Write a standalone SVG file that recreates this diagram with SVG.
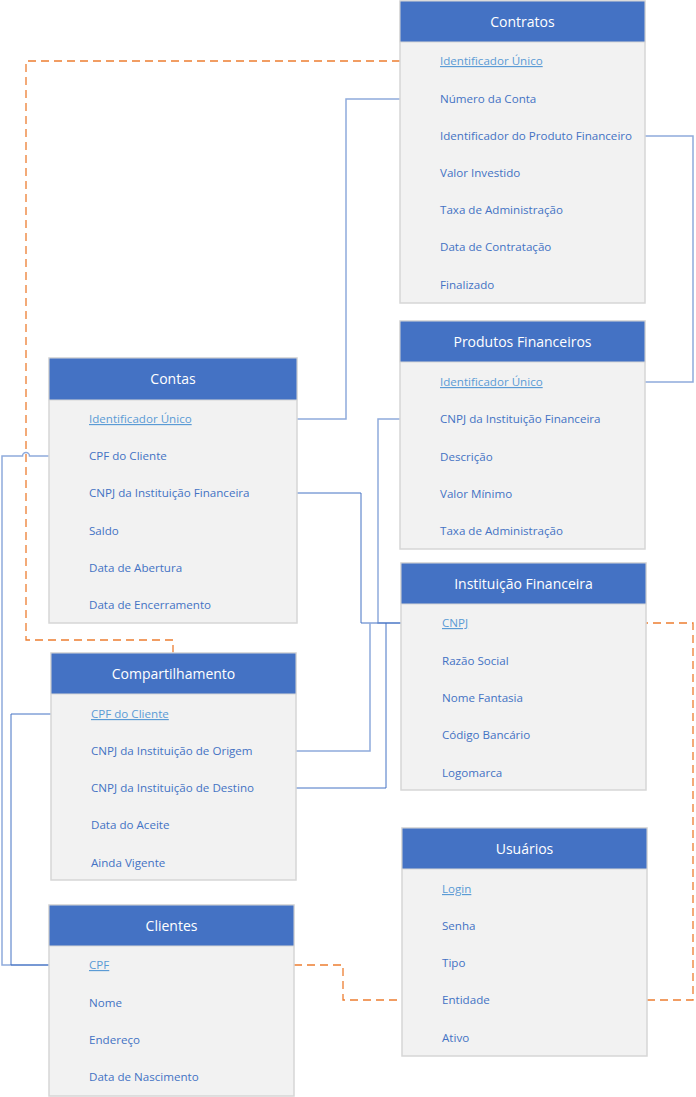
<svg xmlns="http://www.w3.org/2000/svg" width="696" height="1097" viewBox="0 0 696 1097">
<defs>
<style>
.body{fill:#f2f2f2;stroke:#d6d6d6;stroke-width:1.5}
.head{fill:#4472c4;stroke:#d6d6d6;stroke-width:1}
.title{font-family:"Open Sans","Noto Sans",sans-serif;font-size:14px;fill:#ffffff;text-anchor:middle}
.row{font-family:"Open Sans","Noto Sans",sans-serif;font-size:11.6px;fill:#4472c4}
.pk{font-family:"Open Sans","Noto Sans",sans-serif;font-size:11.6px;fill:#5b9bd5;text-decoration:underline}
.fk{fill:none;stroke:#8faadc;stroke-width:1.5}
.fkd{fill:none;stroke:#4472c4;stroke-width:1}
.dash{fill:none;stroke:#ed7d31;stroke-width:1.3;stroke-dasharray:8,5}
</style>
</defs>
<g id="connectors">
<path class="dash" d="M400,61 H26 V640 H173 V653"/>
<path class="fk" d="M400,99 H346 V419 H297"/>
<path class="fk" d="M645,136 H693 V382 H645"/>
<path class="fk" d="M400,419 H378 V623 H401"/>
<path class="fkd" d="M297,493 H361 V623 H401"/>
<path class="fk" d="M296,751 H370 V623"/>
<path class="fkd" d="M296,788 H386 V623"/>
<path class="fk" d="M49,456 H29.5 A3.5,3.5 0 0 0 22.5,456 H2 V965 H49"/>
<path class="fkd" d="M51,714 H11 V965 H49"/>
<path class="dash" d="M294,965 H343 V1000 H402"/>
<path class="dash" d="M647,1000 H693 V623 H646"/>
</g>
<g id="contratos">
<rect class="body" x="400" y="1" width="245" height="302"/>
<rect class="head" x="400" y="1" width="245" height="41"/>
<text class="title" x="522.5" y="27">Contratos</text>
<text class="pk" x="440" y="65">Identificador Único</text>
<text class="row" x="440" y="103">Número da Conta</text>
<text class="row" x="440" y="140">Identificador do Produto Financeiro</text>
<text class="row" x="440" y="177">Valor Investido</text>
<text class="row" x="440" y="214">Taxa de Administração</text>
<text class="row" x="440" y="251">Data de Contratação</text>
<text class="row" x="440" y="289">Finalizado</text>
</g>
<g id="produtos">
<rect class="body" x="400" y="321" width="245" height="228"/>
<rect class="head" x="400" y="321" width="245" height="41"/>
<text class="title" x="522.5" y="347">Produtos Financeiros</text>
<text class="pk" x="440" y="386">Identificador Único</text>
<text class="row" x="440" y="423">CNPJ da Instituição Financeira</text>
<text class="row" x="440" y="461">Descrição</text>
<text class="row" x="440" y="498">Valor Mínimo</text>
<text class="row" x="440" y="535">Taxa de Administração</text>
</g>
<g id="contas">
<rect class="body" x="49" y="358" width="248" height="265"/>
<rect class="head" x="49" y="358" width="248" height="42"/>
<text class="title" x="173" y="384">Contas</text>
<text class="pk" x="89" y="423">Identificador Único</text>
<text class="row" x="89" y="460">CPF do Cliente</text>
<text class="row" x="89" y="497">CNPJ da Instituição Financeira</text>
<text class="row" x="89" y="535">Saldo</text>
<text class="row" x="89" y="572">Data de Abertura</text>
<text class="row" x="89" y="609">Data de Encerramento</text>
</g>
<g id="instituicao">
<rect class="body" x="401" y="563" width="245" height="227"/>
<rect class="head" x="401" y="563" width="245" height="41"/>
<text class="title" x="523.5" y="589">Instituição Financeira</text>
<text class="pk" x="442" y="627">CNPJ</text>
<text class="row" x="442" y="665">Razão Social</text>
<text class="row" x="442" y="702">Nome Fantasia</text>
<text class="row" x="442" y="739">Código Bancário</text>
<text class="row" x="442" y="777">Logomarca</text>
</g>
<g id="compartilhamento">
<rect class="body" x="51" y="653" width="245" height="227"/>
<rect class="head" x="51" y="653" width="245" height="41"/>
<text class="title" x="173.5" y="679">Compartilhamento</text>
<text class="pk" x="91" y="718">CPF do Cliente</text>
<text class="row" x="91" y="755">CNPJ da Instituição de Origem</text>
<text class="row" x="91" y="792">CNPJ da Instituição de Destino</text>
<text class="row" x="91" y="829">Data do Aceite</text>
<text class="row" x="91" y="867">Ainda Vigente</text>
</g>
<g id="usuarios">
<rect class="body" x="402" y="828" width="245" height="228"/>
<rect class="head" x="402" y="828" width="245" height="41"/>
<text class="title" x="524.5" y="854">Usuários</text>
<text class="pk" x="442" y="893">Login</text>
<text class="row" x="442" y="930">Senha</text>
<text class="row" x="442" y="967">Tipo</text>
<text class="row" x="442" y="1004">Entidade</text>
<text class="row" x="442" y="1042">Ativo</text>
</g>
<g id="clientes">
<rect class="body" x="49" y="905" width="245" height="191"/>
<rect class="head" x="49" y="905" width="245" height="41"/>
<text class="title" x="171.5" y="931">Clientes</text>
<text class="pk" x="89" y="969">CPF</text>
<text class="row" x="89" y="1007">Nome</text>
<text class="row" x="89" y="1044">Endereço</text>
<text class="row" x="89" y="1081">Data de Nascimento</text>
</g>
</svg>
